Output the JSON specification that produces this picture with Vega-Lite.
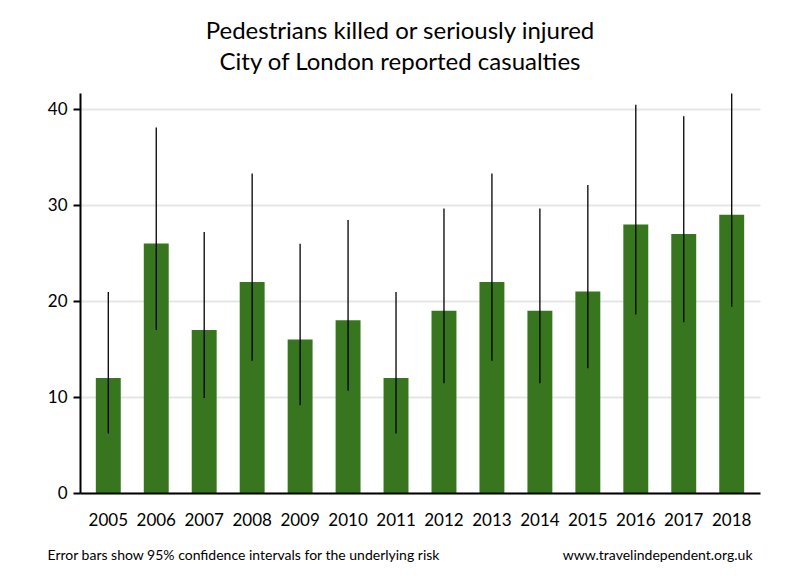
{
  "$schema": "https://vega.github.io/schema/vega-lite/v6.json",
  "width": 680,
  "height": 400,
  "autosize": "none",
  "padding": {"left": 80, "top": 93, "right": 40, "bottom": 87},
  "background": "white",
  "config": {"view": {"stroke": null}, "font": "Lato"},
  "title": {
    "text": ["Pedestrians killed or seriously injured", "City of London reported casualties"],
    "font": "Lato",
    "fontSize": 24,
    "fontWeight": "normal",
    "color": "black",
    "lineHeight": 31,
    "anchor": "middle",
    "dx": -20,
    "offset": 18
  },
  "data": {
    "values": [
      {"year": "2005", "casualties": 12, "lower": 6.2, "upper": 20.96},
      {"year": "2006", "casualties": 26, "lower": 16.98, "upper": 38.1},
      {"year": "2007", "casualties": 17, "lower": 9.9, "upper": 27.22},
      {"year": "2008", "casualties": 22, "lower": 13.79, "upper": 33.31},
      {"year": "2009", "casualties": 16, "lower": 9.15, "upper": 25.98},
      {"year": "2010", "casualties": 18, "lower": 10.67, "upper": 28.45},
      {"year": "2011", "casualties": 12, "lower": 6.2, "upper": 20.96},
      {"year": "2012", "casualties": 19, "lower": 11.44, "upper": 29.67},
      {"year": "2013", "casualties": 22, "lower": 13.79, "upper": 33.31},
      {"year": "2014", "casualties": 19, "lower": 11.44, "upper": 29.67},
      {"year": "2015", "casualties": 21, "lower": 13.0, "upper": 32.1},
      {"year": "2016", "casualties": 28, "lower": 18.61, "upper": 40.47},
      {"year": "2017", "casualties": 27, "lower": 17.79, "upper": 39.28},
      {"year": "2018", "casualties": 29, "lower": 19.42, "upper": 41.65}
    ]
  },
  "encoding": {
    "x": {
      "field": "year",
      "type": "ordinal",
      "scale": {"paddingInner": 0.48, "paddingOuter": 0.33},
      "axis": {
        "labelAngle": 0,
        "labelFontSize": 17,
        "labelColor": "black",
        "labelPadding": 19,
        "ticks": false,
        "domainColor": "black",
        "domainWidth": 2,
        "zindex": 1,
        "title": "Error bars show 95% confidence intervals for the underlying risk",
        "titleFontSize": 14,
        "titleFontWeight": "normal",
        "titleColor": "black",
        "titleAnchor": "start",
        "titleAlign": "left",
        "titleBaseline": "alphabetic",
        "titleX": -33,
        "titleY": 66
      }
    }
  },
  "layer": [
    {
      "mark": {"type": "bar", "color": "#37761f"},
      "encoding": {
        "y": {
          "field": "casualties",
          "type": "quantitative",
          "scale": {"domain": [0, 41.7], "nice": false},
          "axis": {
            "values": [0, 10, 20, 30, 40],
            "grid": true,
            "gridColor": "#e6e6e6",
            "gridWidth": 2,
            "domainColor": "black",
            "domainWidth": 2,
            "tickColor": "black",
            "tickWidth": 2,
            "tickSize": 7,
            "labelFontSize": 17,
            "labelColor": "black",
            "labelPadding": 6,
            "zindex": 0,
            "title": "www.travelindependent.org.uk",
            "titleAngle": 0,
            "titleFontSize": 14,
            "titleFontWeight": "normal",
            "titleColor": "black",
            "titleAlign": "right",
            "titleBaseline": "alphabetic",
            "titleX": 672,
            "titleY": 466
          }
        }
      }
    },
    {
      "mark": {"type": "rule", "color": "black", "strokeWidth": 1.3},
      "encoding": {
        "y": {"field": "lower", "type": "quantitative"},
        "y2": {"field": "upper"}
      }
    }
  ]
}
